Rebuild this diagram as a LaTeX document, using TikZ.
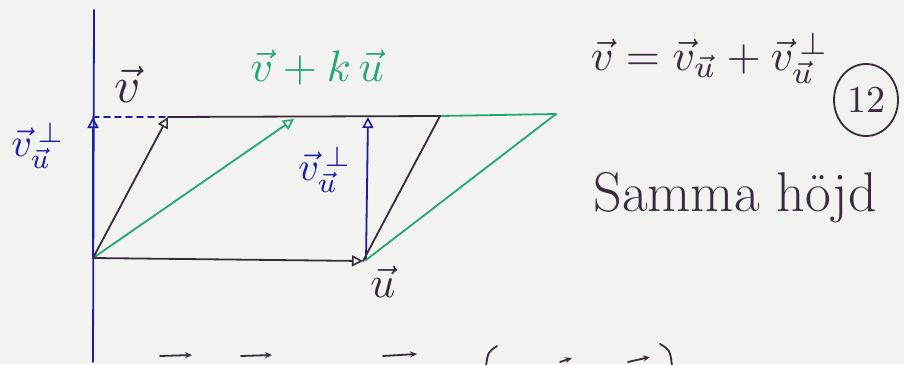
\documentclass[tikz,border=0pt]{standalone}
\usepackage{amsmath}
\usetikzlibrary{arrows.meta,shapes.geometric}
\definecolor{paper}{HTML}{F2F2F0}
\definecolor{ink}{HTML}{3A2A3C}
\definecolor{bink}{HTML}{1C1CA8}
\definecolor{gink}{HTML}{22A870}
\tikzset{
  pen/.style={line width=1.8pt, line cap=round, line join=round},
  head/.style={-{Triangle[open,length=11pt,width=11pt,line width=1.6pt]}},
  lbl/.style={inner sep=0pt, scale=4.4},
  small/.style={inner sep=0pt, scale=4.0},
  tip/.style={-{Stealth[length=7pt,width=6pt]}}
}
\begin{document}
\begin{tikzpicture}[x=1pt,y=-1pt]
\useasboundingbox (0,0) rectangle (904,364);
\fill[paper] (0,0) rectangle (904,364);
% points
\coordinate (axtop) at (94,10);
\coordinate (axbot) at (93,362);
\coordinate (O) at (93,258);
\coordinate (P) at (93,117);
\coordinate (V) at (168,117);
\coordinate (U) at (363,261);
\coordinate (Ub) at (366,260);
\coordinate (Q) at (368,117);
\coordinate (VU) at (440,116);
\coordinate (W) at (294,119);
\coordinate (G) at (556,114);
% blue axis and components
\draw[pen, bink] (axtop) -- (axbot);
\draw[pen, bink, head] (O) -- (P);
\draw[pen, bink, dashed, dash pattern=on 6pt off 5pt] (P) -- (V);
\draw[pen, bink, head] (Ub) -- (Q);
% green
\draw[pen, gink, head] (O) -- (W);
\draw[pen, gink] (Ub) -- (G);
\draw[pen, gink] (VU) -- (G);
% black parallelogram
\draw[pen, ink, head] (O) -- (V);
\draw[pen, ink, head] (O) -- (U);
\draw[pen, ink] (V) -- (VU);
\draw[pen, ink] (U) -- (VU);
% labels
\node[lbl, text=ink, scale=1.15] (lv) at (128,84) {$\vec{v}$};
\node[lbl, text=gink] (lvku) at (317,68) {$\vec{v}+k\,\vec{u}$};
\node[small, text=bink] (lperpL) at (38,146) {$\vec{v}_{\vec{u}}^{\,\perp}$};
\node[small, text=bink] (lperpR) at (325,170) {$\vec{v}_{\vec{u}}^{\,\perp}$};
\node[lbl, text=ink] (lu) at (383,282) {$\vec{u}$};
\node[lbl, text=ink] (leq) at (710,58) {$\vec{v}=\vec{v}_{\vec{u}}+\vec{v}_{\vec{u}}^{\,\perp}$};
\coordinate (ringc) at (866,100);
\draw[pen, ink] (ringc) ellipse [x radius=32pt, y radius=36pt];
\node[text=ink, scale=3.8, inner sep=0pt] (num) at (ringc) {12};
\node[inner sep=0pt, text=ink, font=\fontsize{56}{60}\selectfont] (ls) at (735,198) {Samma höjd};
% cut-off marks of the next line
\begin{scope}
\clip (0,0) rectangle (904,364);
\draw[pen, ink, tip] (160,356) -- (192,355);
\draw[pen, ink, tip] (241,356) -- (272,355);
\draw[pen, ink, tip] (383,356) -- (417,354);
\draw[pen, ink] (497,346) .. controls (488,352) .. (486,366);
\draw[pen, ink, tip] (560,362) -- (572,358);
\draw[pen, ink, tip] (628,362) -- (650,357);
\draw[pen, ink] (660,344) .. controls (670,350) .. (672,366);
\end{scope}
\end{tikzpicture}
\end{document}
